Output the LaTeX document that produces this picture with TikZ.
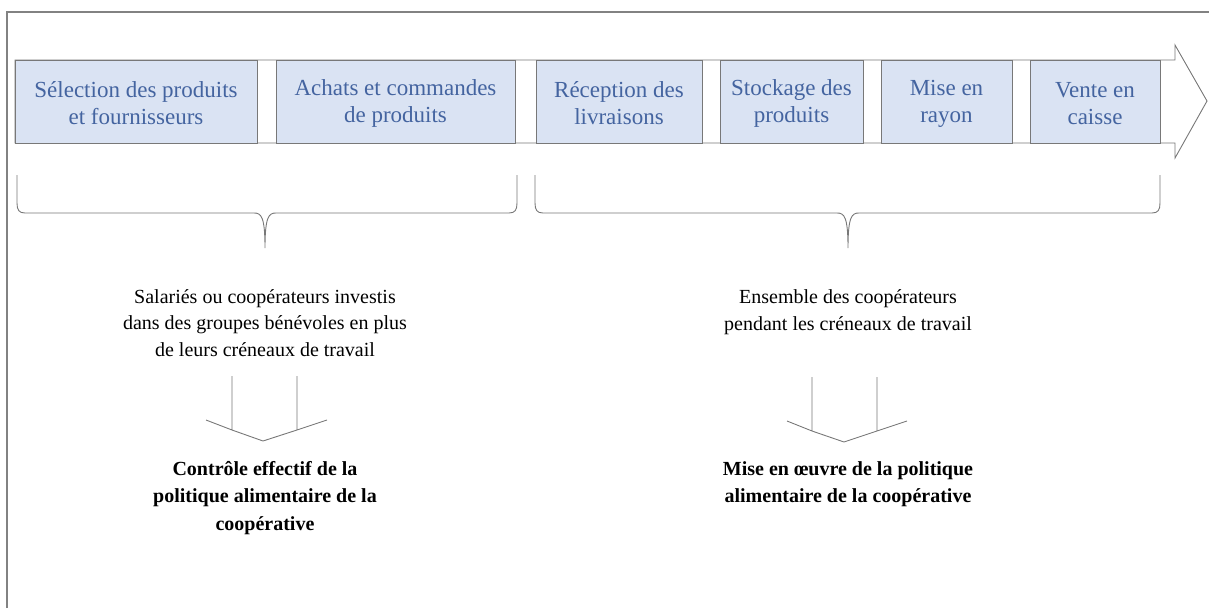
\documentclass[tikz,border=0pt]{standalone}
\usepackage{fontspec}
\setmainfont{Liberation Serif}
\definecolor{boxfill}{RGB}{218,227,243}
\definecolor{boxline}{RGB}{120,120,120}
\definecolor{boxtext}{RGB}{68,100,160}
\definecolor{frameline}{RGB}{130,130,130}
\begin{document}
\begin{tikzpicture}[x=1pt,y=-1pt,
  stage/.style={draw=boxline,fill=boxfill,line width=0.9pt,minimum height=83pt,inner sep=0pt},
  stagetext/.style={text=boxtext,align=center,inner sep=0pt,font=\fontsize{23}{27}\selectfont},
  body/.style={align=center,font=\fontsize{20}{26.5}\selectfont},
  bodybold/.style={align=center,font=\fontsize{20}{27.5}\selectfont\bfseries},
  bracestyle/.style={draw=boxline,line width=0.9pt},
  downarrow/.style={draw=boxline,line width=0.9pt}]
\useasboundingbox (0,0) rectangle (1209,608);
% frame
\draw[frameline,line width=1.6pt] (7,608) -- (7,12) -- (1209,12);
% big arrow
\draw[draw=boxline,fill=white,line width=0.9pt] (15,60) -- (1175,60) -- (1175,45) -- (1207,101) -- (1175,158) -- (1175,143) -- (15,143) -- cycle;
% stages
\node[stage,minimum width=242pt] (s1) at (136,101.5) {};
\node[stage,minimum width=239pt] (s2) at (395.5,101.5) {};
\node[stage,minimum width=166pt] (s3) at (619,101.5) {};
\node[stage,minimum width=143pt] (s4) at (791.5,101.5) {};
\node[stage,minimum width=131pt] (s5) at (946.5,101.5) {};
\node[stage,minimum width=130pt] (s6) at (1095,101.5) {};
\node[stagetext] (s1t) at ([yshift=-2pt]s1.center) {Sélection des produits\\et fournisseurs};
\node[stagetext] (s2t) at ([yshift=-2pt]s2.center) {Achats et commandes\\de produits};
\node[stagetext] (s3t) at ([yshift=-2pt]s3.center) {Réception des\\livraisons};
\node[stagetext] (s4t) at ([yshift=-2pt]s4.center) {Stockage des\\produits};
\node[stagetext] (s5t) at ([yshift=-2pt]s5.center) {Mise en\\rayon};
\node[stagetext] (s6t) at ([yshift=-2pt]s6.center) {Vente en\\caisse};
% braces
\draw[bracestyle] (17,175) -- (17,203) .. controls (17,210) and (19,213) .. (25,213) -- (254,213)
  .. controls (261,213) and (265,216) .. (265,248)
  .. controls (265,216) and (269,213) .. (276,213) -- (509,213)
  .. controls (515,213) and (517,210) .. (517,203) -- (517,175);
\draw[bracestyle] (535,175) -- (535,203) .. controls (535,210) and (537,213) .. (543,213) -- (837,213)
  .. controls (844,213) and (848,216) .. (848,248)
  .. controls (848,216) and (852,213) .. (859,213) -- (1152,213)
  .. controls (1158,213) and (1160,210) .. (1160,203) -- (1160,175);
% texts
\node[body] (t1) at (265,323) {Salariés ou coopérateurs investis\\dans des groupes bénévoles en plus\\de leurs créneaux de travail};
\node[body] (t2) at (848,312) {Ensemble des coopérateurs\\pendant les créneaux de travail};
% down arrows
\draw[downarrow] (232,376) -- (232,430) -- (206,420) (232,430) -- (263,441) -- (297,430) -- (327,420) (297,430) -- (297,376);
\draw[downarrow] (812,377) -- (812,431) -- (787,421) (812,431) -- (844,442) -- (877,431) -- (907,421) (877,431) -- (877,377);
% results
\node[bodybold] (r1) at (265,498) {Contrôle effectif de la\\politique alimentaire de la\\coopérative};
\node[bodybold] (r2) at (848,484) {Mise en œuvre de la politique\\alimentaire de la coopérative};
\end{tikzpicture}
\end{document}
